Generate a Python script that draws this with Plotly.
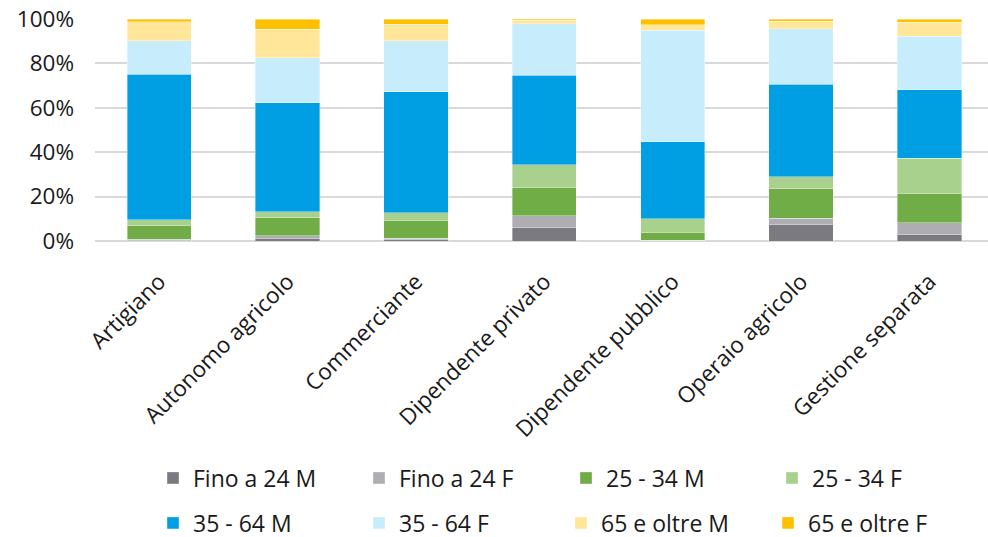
import plotly.graph_objects as go

categories = ["Artigiano", "Autonomo agricolo", "Commerciante", "Dipendente privato",
              "Dipendente pubblico", "Operaio agricolo", "Gestione separata"]

fino24_m = [0.4, 1.2, 0.7, 6.2, 0.1, 7.5, 3.0]
fino24_f = [0.5, 1.1, 0.5, 5.1, 0.2, 2.7, 5.3]
e25_34_m = [6.2, 8.1, 8.1, 12.9, 3.6, 13.4, 13.2]
e25_34_f = [2.5, 2.8, 3.5, 10.2, 6.2, 5.4, 15.7]
e35_64_m = [65.5, 49.0, 54.5, 40.2, 34.5, 41.6, 31.0]
e35_64_f = [15.0, 20.4, 22.8, 23.3, 50.4, 24.9, 24.1]
e65_m = [8.7, 12.7, 7.5, 1.6, 2.4, 3.4, 6.2]
e65_f = [1.2, 4.7, 2.4, 0.5, 2.6, 1.1, 1.5]

series_names = ["Fino a 24 M", "Fino a 24 F", "25 - 34 M", "25 - 34 F",
                "35 - 64 M", "35 - 64 F", "65 e oltre M", "65 e oltre F"]
series_values = [fino24_m, fino24_f, e25_34_m, e25_34_f, e35_64_m, e35_64_f, e65_m, e65_f]
colors = ["#7B7A80", "#AEADB2", "#70AD47", "#A9D18E",
          "#009FE3", "#C7EDFD", "#FFE699", "#FFC000"]

# legend entry placement (text left x, row centre y) in pixels
legend_pos = [(193, 478), (399, 478), (606, 478), (812, 478),
              (193, 523), (399, 523), (601, 523), (808, 523)]

FONT = "Open Sans"
FS = 22.5
TXT = "#1a1a1a"
W, H = 988, 537

fig = go.Figure()
layout_legends = {}
for i, (name, vals, color) in enumerate(zip(series_names, series_values, colors)):
    lg = "legend" if i == 0 else f"legend{i + 1}"
    fig.add_trace(go.Bar(
        x=categories, y=vals, name=name, legend=lg, hoverinfo="skip",
        marker=dict(color=color, line=dict(color="rgba(255,255,255,0.6)", width=0.6)),
    ))
    tx, ty = legend_pos[i]
    layout_legends[lg] = dict(
        orientation="h", xref="container", yref="container",
        x=(tx - 40) / W, y=1 - ty / H, xanchor="left", yanchor="middle",
        font=dict(family=FONT, size=23, color=TXT), bgcolor="rgba(0,0,0,0)",
        itemclick=False, itemdoubleclick=False,
    )

fig.update_layout(
    width=W, height=H,
    barmode="stack", bargap=0.5,
    plot_bgcolor="white", paper_bgcolor="white",
    margin=dict(l=95, r=0, t=19, b=296, autoexpand=False),
    font=dict(family=FONT, size=FS, color=TXT),
    hovermode=False,
    xaxis=dict(range=[-0.5, 6.456], tickangle=-45, showgrid=False, ticks="",
               automargin=False, ticklabelstandoff=22,
               tickfont=dict(family=FONT, size=FS, color=TXT), showline=False),
    yaxis=dict(range=[0, 100], dtick=20, ticksuffix="%", showgrid=True,
               automargin=False, ticklabelstandoff=20,
               gridcolor="#D9D9D9", gridwidth=1.5, zeroline=True, zerolinecolor="#D9D9D9",
               zerolinewidth=1.5, ticks="", tickfont=dict(family=FONT, size=FS, color=TXT)),
    showlegend=True,
    **layout_legends,
)

fig.write_html("out.html", config={"displayModeBar": False},
               post_script="document.body.style.margin='0px';")
